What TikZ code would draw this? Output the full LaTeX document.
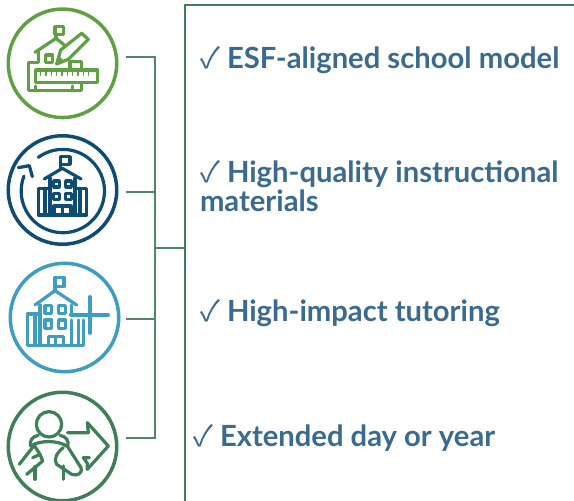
\documentclass[tikz,border=0pt]{standalone}
\usepackage{fontspec}
\setmainfont{Lato}
\newfontfamily\chk{Noto Sans CJK SC}
\definecolor{igreen}{HTML}{5FA043}
\definecolor{inavy}{HTML}{0F4C73}
\definecolor{iblue}{HTML}{3F9DC0}
\definecolor{idark}{HTML}{3F7F57}
\definecolor{lgreen}{HTML}{4F8666}
\definecolor{txt}{HTML}{3A6A8E}
\tikzset{
 ring/.style={circle,draw=#1,line width=3.5pt,minimum size=108.5pt,inner sep=0pt,outer sep=0pt},
 conn/.style={draw=lgreen,line width=1.6pt},
 frameln/.style={draw=idark,line width=1.7pt},
 item/.style={anchor=base west,inner sep=0pt,outer sep=0pt,text=txt,font=\fontsize{29.2}{30}\selectfont\bfseries},
 tick/.style={anchor=base west,inner sep=0pt,outer sep=0pt,text=txt,font=\fontsize{29}{31}\chk},
 glyph/.style={draw=#1,line width=3.2pt,line join=round,line cap=round},
 zoomed/.style={x=0.3333pt,y=-0.3333pt}
}
\begin{document}
\begin{tikzpicture}[x=1pt,y=-1pt]
\useasboundingbox (0,0) rectangle (574,501);
% rings
\node[ring=igreen] (r1) at (62.5,63.3) {};
\node[ring=inavy] (r2) at (62.5,190) {};
\node[ring=iblue] (r3) at (64.5,317.5) {};
\node[ring=idark] (r4) at (62.5,446.5) {};
% connectors
\coordinate (a1) at (126,57);
\coordinate (a2) at (126,192);
\coordinate (a3) at (126,319);
\coordinate (a4) at (126,438);
\coordinate (j1) at (155,57);
\coordinate (j2) at (155,192);
\coordinate (j3) at (155,319);
\coordinate (j4) at (155,438);
\coordinate (jm) at (155,248);
\coordinate (f0) at (185,248);
\coordinate (ft) at (185,5);
\coordinate (fb) at (185,501);
\coordinate (fr) at (574,5);
\draw[conn] (a1) -- (j1) -- (j4) -- (a4);
\draw[conn] (a2) -- (j2);
\draw[conn] (a3) -- (j3);
\draw[conn] (jm) -- (f0);
\draw[frameln] (fb) -- (ft) -- (fr);
% icon 1
\begin{scope}[zoomed,glyph=igreen]
\draw (165,80) rectangle (190,103);
\draw (168,103) -- (168,115);
\draw (105,157) -- (168,115) -- (193,135);
\draw (115,155) -- (115,188) -- (85,188) -- (85,272) -- (245,272) -- (245,252);
\draw (107,210) rectangle (293,248);
\foreach \i in {122,138,...,280} \draw[line width=1.6pt] (\i,212) -- (\i,226);
\draw (137,165) rectangle (158,187);
\draw (170,192) -- (182,150) -- (245,100) -- (265,118) -- (205,178) -- cycle;
\fill[igreen] (170,192) -- (177,168) -- (192,182) -- cycle;
\draw (210,205) -- (210,185) -- (245,185) -- (245,205);
\draw (107,258) -- (107,272);
\draw (218,258) -- (218,272);
\end{scope}
% icon 2
\begin{scope}[shift={(0pt,-125pt)},zoomed,glyph=inavy]
\draw (115,97) arc[start angle=234,end angle=561,radius=125];
\draw (55,128) -- (88,122) -- (97,155);
\draw (182,95) rectangle (210,118);
\draw (182,118) -- (182,130);
\draw (133,162) -- (187,130) -- (243,162);
\draw (150,160) -- (150,270);
\draw (225,160) -- (225,270);
\draw (150,190) -- (115,190) -- (115,270) -- (260,270) -- (260,190) -- (225,190);
\draw (135,190) -- (135,270);
\draw (240,190) -- (240,270);
\draw (161,168) rectangle (178,186);
\draw (197,168) rectangle (214,186);
\draw (161,205) rectangle (178,223);
\draw (197,205) rectangle (214,223);
\draw (162,270) -- (162,243) -- (213,243) -- (213,270);
\draw (187,243) -- (187,270);
\end{scope}
% icon 3
\begin{scope}[shift={(0pt,-250pt)},zoomed,glyph=iblue]
\draw (165,82) rectangle (192,110);
\draw (165,110) -- (165,122);
\draw (105,165) -- (165,122) -- (230,165);
\draw (120,165) -- (120,287);
\draw (215,165) -- (215,195);
\draw (120,192) -- (82,192) -- (82,287) -- (250,287) -- (250,210);
\draw (105,192) -- (105,287);
\draw (215,210) -- (215,287);
\draw (235,210) -- (235,287);
\draw (135,167) rectangle (155,190);
\draw (176,167) rectangle (197,190);
\draw (135,210) rectangle (155,235);
\draw (176,210) rectangle (197,235);
\draw (145,287) -- (145,260) -- (190,260) -- (190,287);
\draw (167,260) -- (167,287);
\draw (212,195) -- (325,195);
\draw (270,140) -- (270,250);
\end{scope}
% icon 4
\begin{scope}[shift={(0pt,-376pt)},zoomed,glyph=idark]
\draw (147,145) circle[radius=38];
\draw (115,178) .. controls (95,182) and (88,195) .. (92,210);
\draw (180,178) .. controls (200,182) and (208,195) .. (203,212);
\draw (92,210) .. controls (120,192) and (175,192) .. (203,212);
\draw (58,265) -- (105,205);
\draw (80,295) -- (128,255) -- (120,235) -- (98,245);
\draw (105,212) -- (120,235);
\draw (105,272) -- (105,310);
\draw (203,212) -- (243,275) .. controls (248,295) and (230,300) .. (215,295) -- (170,265) .. controls (160,250) and (170,230) .. (190,215);
\draw (190,270) -- (190,310);
\draw (203,170) -- (265,170) -- (262,140) -- (325,210) -- (262,280) -- (262,262) -- (250,245) -- (268,245);
\end{scope}
% text
\node[tick] (c1) at (200,68) {✓};
\node[item] (t1) at (227,68) {ESF-aligned school model};
\node[tick] (c2) at (200,182) {✓};
\node[item] (t2) at (227,182) {High-quality instructional};
\node[item] (t2b) at (200,211) {materials};
\node[tick] (c3) at (200,321) {✓};
\node[item] (t3) at (227,321) {High-impact tutoring};
\node[tick] (c4) at (193,446) {✓};
\node[item] (t4) at (220,446) {Extended day or year};
\end{tikzpicture}
\end{document}
